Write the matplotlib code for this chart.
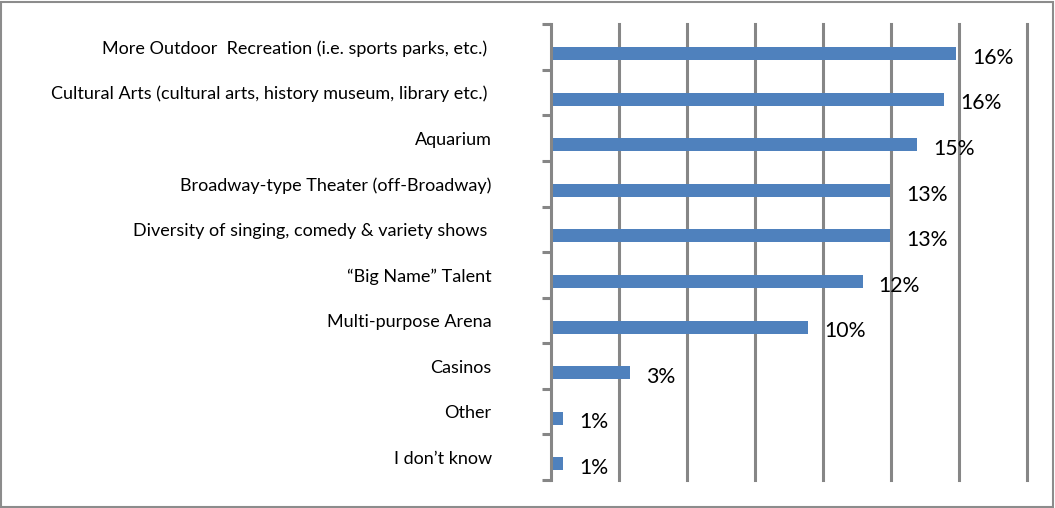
import matplotlib
matplotlib.use("Agg")
import matplotlib.pyplot as plt
from matplotlib.patches import Rectangle
import numpy as np

# ---- data ----
categories = [
    "More Outdoor  Recreation (i.e. sports parks, etc.) ",
    "Cultural Arts (cultural arts, history museum, library etc.) ",
    "Aquarium",
    "Broadway-type Theater (off-Broadway)",
    "Diversity of singing, comedy & variety shows ",
    "\u201cBig Name\u201d Talent",
    "Multi-purpose Arena",
    "Casinos",
    "Other",
    "I don\u2019t know",
]
values = [15.5, 15.05, 14.0, 12.97, 12.97, 11.93, 9.84, 3.04, 0.48, 0.48]
value_labels = ["16%", "16%", "15%", "13%", "13%", "12%", "10%", "3%", "1%", "1%"]
grid_step = 2.6
x_max = 18.2

W, H, DPI = 1055, 508, 100
plt.rcParams['font.family'] = ['Lato', 'DejaVu Sans']

fig = plt.figure(figsize=(W / DPI, H / DPI), dpi=DPI)
fig.patch.set_facecolor('white')

left_px, right_px, top_px, bot_px = 550.7, 1026.7, 24.3, 480.0
ax = fig.add_axes([left_px / W, 1 - bot_px / H, (right_px - left_px) / W, (bot_px - top_px) / H])

gray = '#868686'
n = len(categories)
y = np.arange(n)
offset = 0.145
ax.barh(y + offset, values, height=0.285, color='#4F81BD', edgecolor='none', zorder=3)

ax.set_xlim(0, x_max)
ax.set_ylim(n - 0.5, -0.5)

# gridlines
ax.set_xticks(np.arange(grid_step, x_max + 1e-6, grid_step))
ax.xaxis.grid(True, color=gray, linewidth=2.2, zorder=1)
ax.tick_params(axis='x', length=0, labelbottom=False)
for gl in ax.get_xgridlines():
    gl.set_clip_on(False)

# y ticks at boundaries, labels at centers
ax.set_yticks(np.arange(-0.5, n, 1.0))
ax.set_yticklabels([])
ax.tick_params(axis='y', which='major', length=6.3, width=2.2, color=gray, direction='out')
ax.set_yticks(y, minor=True)
ax.set_yticklabels(categories, minor=True)
ax.tick_params(axis='y', which='minor', length=0, pad=42.5)

for s in ['top', 'right', 'bottom']:
    ax.spines[s].set_visible(False)
ax.spines['left'].set_color(gray)
ax.spines['left'].set_linewidth(2.2)
ax.spines['left'].set_zorder(4)

# fit fonts
cat_fs = 12.0
for t in ax.get_yticklabels(minor=True):
    t.set_fontsize(cat_fs)
    t.set_color('black')
fig.canvas.draw()
r = fig.canvas.get_renderer()
ref = ax.get_yticklabels(minor=True)[3]
w = ref.get_window_extent(r).width
target = 491.7 - 180.0
cat_fs = cat_fs * target / w
for t in ax.get_yticklabels(minor=True):
    t.set_fontsize(cat_fs)

lab_fs = 14.0
tt = fig.text(0, 0, "16%", fontsize=lab_fs)
fig.canvas.draw()
lw = tt.get_window_extent(r).width
tt.remove()
lab_fs = lab_fs * 41.7 / lw

for yi, v, lab in zip(y, values, value_labels):
    ax.annotate(lab, xy=(v, yi + offset), xytext=(11.5, -3.0), textcoords='offset points',
                ha='left', va='center', fontsize=lab_fs, color='black', zorder=5,
                annotation_clip=False)

# chart border
fig.add_artist(Rectangle((1.0 / W, 1.0 / H), (W - 3.0) / W, (H - 2.5) / H,
                         transform=fig.transFigure, fill=False,
                         edgecolor='#8c8c8c', linewidth=1.5))

fig.savefig('out.png', dpi=DPI, facecolor='white')
